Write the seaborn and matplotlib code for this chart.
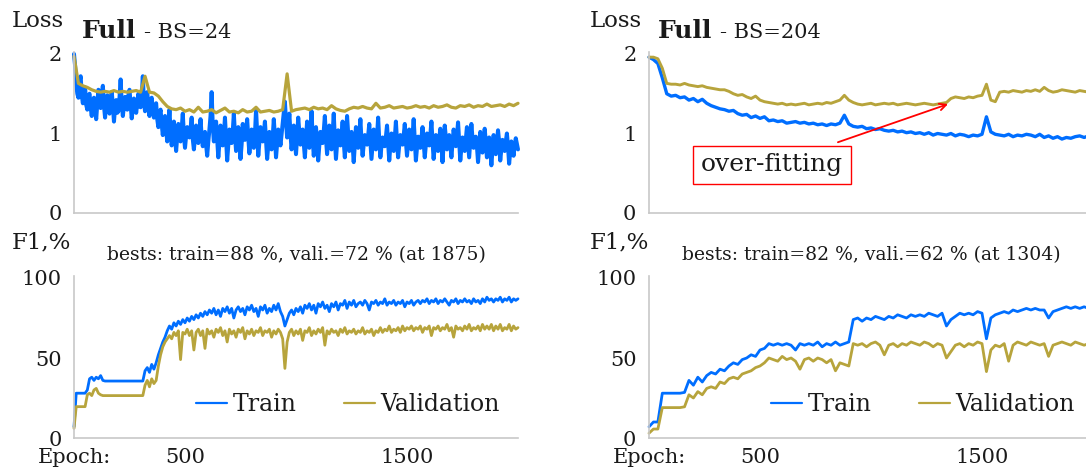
import numpy as np
import pandas as pd
import matplotlib
matplotlib.use("Agg")
import matplotlib.pyplot as plt
import seaborn as sns

sns.set_theme(style="white")
plt.rcParams['font.family'] = ['DejaVu Serif']
plt.rcParams['mathtext.fontset'] = 'dejavuserif'

TRAIN_COLOR = "#006eff"
VAL_COLOR = "#b7a43c"
TEXT_COLOR = "#1a1a1a"
SPINE_COLOR = "#c8c8c8"

# ---------------- data ----------------
# BS=24, train loss, sampled every 5 epochs
loss24_train = [
    2.00, 1.85, 1.62, 1.50, 1.45, 1.66, 1.72, 1.48, 1.38, 1.55, 1.58, 1.36, 1.30, 1.47, 1.50, 1.33, 1.22, 1.40, 1.45, 1.29,
    1.18, 1.38, 1.55, 1.42, 1.32, 1.50, 1.60, 1.35, 1.20, 1.41, 1.48, 1.30, 1.25, 1.44, 1.52, 1.36, 1.15, 1.33, 1.42, 1.26,
    1.28, 1.45, 1.68, 1.38, 1.22, 1.35, 1.46, 1.31, 1.30, 1.48, 1.55, 1.37, 1.19, 1.32, 1.44, 1.40, 1.26, 1.38, 1.50, 1.34,
    1.33, 1.46, 1.72, 1.40, 1.28, 1.39, 1.52, 1.35, 1.22, 1.36, 1.45, 1.30, 1.20, 1.33, 1.38, 1.18, 1.08, 1.24, 1.30, 1.12,
    0.98, 1.15, 1.22, 1.05, 0.90, 1.08, 1.30, 1.02, 0.85, 0.98, 1.15, 0.95, 0.78, 0.96, 1.12, 1.00, 0.90, 1.06, 1.25, 0.98,
    0.82, 0.97, 1.08, 1.00, 0.95, 1.06, 1.20, 0.93, 0.80, 0.94, 1.10, 0.99, 0.88, 1.02, 1.18, 0.96, 0.84, 0.92, 1.02, 0.86,
    0.72, 0.90, 1.05, 1.22, 1.52, 1.10, 0.90, 1.00, 1.15, 0.92, 0.70, 0.88, 1.10, 1.00, 0.85, 0.97, 1.20, 0.94, 0.66, 0.86,
    1.05, 0.96, 0.88, 1.02, 1.25, 0.99, 0.78, 0.93, 1.08, 0.90, 0.68, 0.86, 1.12, 1.01, 0.92, 1.04, 1.18, 0.95, 0.75, 0.90,
    1.05, 0.94, 0.82, 0.98, 1.30, 1.02, 0.72, 0.89, 1.08, 0.97, 0.90, 1.00, 1.15, 0.92, 0.68, 0.85, 1.02, 0.93, 0.80, 0.95,
    1.18, 0.96, 0.70, 0.88, 1.05, 0.97, 0.85, 0.99, 1.12, 1.28, 1.40, 1.15, 0.95, 1.08, 1.25, 1.00, 0.80, 0.94, 1.10, 0.90,
    0.74, 0.95, 1.20, 1.02, 0.86, 0.96, 1.05, 0.88, 0.70, 0.92, 1.15, 0.98, 0.82, 1.00, 1.28, 0.95, 0.72, 0.89, 1.08, 0.90,
    0.66, 0.85, 1.02, 0.96, 0.88, 1.03, 1.22, 0.94, 0.74, 0.91, 1.10, 0.97, 0.80, 0.99, 1.25, 0.93, 0.68, 0.87, 1.04, 0.92,
    0.85, 0.98, 1.15, 0.90, 0.70, 0.94, 1.22, 0.99, 0.78, 0.90, 1.02, 0.86, 0.64, 0.85, 1.08, 0.96, 0.82, 0.98, 1.18, 0.91,
    0.72, 0.86, 0.98, 0.92, 0.86, 0.97, 1.12, 0.90, 0.68, 0.87, 1.05, 0.95, 0.80, 0.96, 1.20, 0.92, 0.70, 0.84, 0.95, 0.89,
    0.84, 0.96, 1.10, 0.88, 0.66, 0.84, 1.00, 0.91, 0.78, 0.94, 1.15, 0.90, 0.70, 0.85, 0.98, 0.93, 0.86, 0.97, 1.12, 0.90,
    0.72, 0.88, 1.05, 0.94, 0.80, 0.97, 1.18, 0.92, 0.66, 0.82, 0.96, 0.90, 0.82, 0.94, 1.08, 0.89, 0.70, 0.86, 1.00, 0.93,
    0.85, 0.98, 1.15, 0.90, 0.68, 0.84, 0.98, 0.91, 0.78, 0.92, 1.06, 0.88, 0.64, 0.86, 1.10, 0.95, 0.80, 0.90, 0.98, 0.87,
    0.70, 0.88, 1.05, 0.95, 0.84, 0.97, 1.14, 0.90, 0.66, 0.82, 0.95, 0.88, 0.78, 0.93, 1.08, 0.89, 0.70, 0.90, 1.12, 0.94,
    0.82, 0.90, 0.96, 0.84, 0.64, 0.83, 1.02, 0.92, 0.76, 0.91, 1.06, 0.89, 0.70, 0.84, 0.95, 0.82, 0.60, 0.80, 0.98, 0.88,
    0.74, 0.89, 1.04, 0.90, 0.66, 0.80, 0.92, 0.86, 0.78, 0.90, 1.00, 0.84, 0.62, 0.77, 0.90, 0.84, 0.72, 0.85, 0.94, 0.87,
    0.80,
]
# BS=24, validation loss, every 20 epochs
loss24_val = [
    1.97, 1.63, 1.60, 1.58, 1.55, 1.53, 1.52, 1.53, 1.52, 1.54,
    1.52, 1.53, 1.52, 1.53, 1.54, 1.52, 1.72, 1.52, 1.51, 1.47,
    1.40, 1.34, 1.31, 1.30, 1.32, 1.28, 1.30, 1.27, 1.33, 1.27,
    1.28, 1.30, 1.26, 1.29, 1.32, 1.27, 1.28, 1.26, 1.30, 1.27,
    1.28, 1.33, 1.27, 1.28, 1.29, 1.27, 1.28, 1.30, 1.75, 1.28,
    1.30, 1.31, 1.32, 1.30, 1.33, 1.31, 1.32, 1.30, 1.35, 1.31,
    1.29, 1.28, 1.31, 1.33, 1.32, 1.34, 1.32, 1.31, 1.38, 1.32,
    1.33, 1.35, 1.32, 1.33, 1.34, 1.32, 1.33, 1.35, 1.33, 1.34,
    1.32, 1.35, 1.33, 1.34, 1.36, 1.33, 1.32, 1.35, 1.34, 1.36,
    1.33, 1.35, 1.34, 1.37, 1.34, 1.35, 1.36, 1.34, 1.37, 1.35,
    1.38,
]
# BS=204, train loss, every 20 epochs
loss204_train = [
    1.96, 1.93, 1.88, 1.70, 1.50, 1.47, 1.48, 1.45, 1.46, 1.42,
    1.44, 1.40, 1.43, 1.38, 1.35, 1.33, 1.31, 1.30, 1.28, 1.29,
    1.25, 1.23, 1.24, 1.20, 1.22, 1.19, 1.21, 1.16, 1.17, 1.15,
    1.16, 1.13, 1.14, 1.15, 1.13, 1.14, 1.12, 1.13, 1.11, 1.12,
    1.10, 1.12, 1.11, 1.13, 1.23, 1.12, 1.09, 1.08, 1.09, 1.06,
    1.07, 1.05, 1.06, 1.04, 1.03, 1.04, 1.02, 1.03, 1.01, 1.02,
    1.00, 1.01, 0.99, 1.01, 0.98, 1.00, 0.99, 0.98, 1.00, 0.97,
    0.99, 0.98, 0.96, 0.98, 0.97, 0.99, 1.21, 1.02, 0.99, 0.98,
    0.97, 0.99, 0.96, 0.98, 0.97, 0.99, 0.98, 0.96, 0.99, 0.95,
    0.97, 0.94, 0.96, 0.93, 0.95, 0.94, 0.96, 0.97, 0.95, 0.97,
    0.96,
]
# BS=204, validation loss, every 20 epochs
loss204_val = [
    1.96, 1.96, 1.94, 1.82, 1.63, 1.62, 1.62, 1.61, 1.63, 1.61,
    1.60, 1.59, 1.60, 1.58, 1.57, 1.56, 1.55, 1.55, 1.53, 1.50,
    1.48, 1.49, 1.46, 1.44, 1.47, 1.42, 1.40, 1.39, 1.38, 1.37,
    1.38, 1.36, 1.37, 1.36, 1.37, 1.38, 1.36, 1.37, 1.38, 1.37,
    1.39, 1.38, 1.40, 1.42, 1.48, 1.42, 1.39, 1.37, 1.36, 1.37,
    1.38, 1.36, 1.37, 1.38, 1.37, 1.38, 1.36, 1.37, 1.38, 1.37,
    1.36, 1.37, 1.38, 1.37, 1.36, 1.37, 1.38, 1.39, 1.44, 1.46,
    1.45, 1.44, 1.46, 1.45, 1.47, 1.48, 1.62, 1.42, 1.40, 1.52,
    1.53, 1.52, 1.54, 1.53, 1.52, 1.54, 1.53, 1.55, 1.53, 1.58,
    1.54, 1.52, 1.53, 1.55, 1.54, 1.53, 1.52, 1.54, 1.53, 1.52,
    1.53,
]
# BS=24, train F1 %, every 10 epochs
f1_24_train = [
    7, 28, 28, 28, 28, 28, 30, 37, 38, 36,
    38, 37, 39, 36, 35.6, 35.6, 35.6, 35.6, 35.6, 35.6,
    35.6, 35.6, 35.6, 35.6, 35.6, 35.6, 35.6, 35.6, 35.6, 35.6,
    35.6, 35.6, 42, 44, 41, 46, 43, 47, 52, 56,
    60, 63, 67, 70, 68, 72, 70, 73, 71, 74,
    72, 75, 73, 76, 74, 77, 75, 78, 76, 79,
    77, 80, 78, 81, 77, 80, 76, 81, 79, 82,
    78, 81, 75, 80, 82, 79, 81, 77, 82, 80,
    83, 79, 81, 76, 82, 80, 83, 78, 81, 79,
    83, 80, 84, 79, 76, 70, 74, 78, 80, 77,
    81, 79, 82, 78, 83, 81, 84, 80, 83, 78,
    84, 82, 85, 81, 83, 79, 84, 82, 85, 80,
    84, 83, 86, 81, 85, 83, 86, 82, 84, 85,
    83, 86, 84, 80, 85, 84, 86, 83, 85, 84,
    87, 83, 85, 84, 86, 83, 85, 84, 86, 82,
    85, 84, 86, 83, 85, 86, 84, 86, 85, 87,
    84, 86, 85, 87, 84, 86, 85, 87, 85, 83,
    86, 85, 87, 84, 86, 85, 87, 85, 86, 84,
    87, 85, 86, 84, 87, 85, 88, 86, 87, 85,
    87, 86, 88, 85, 87, 86, 88, 85, 87, 86,
    87,
]
# BS=24, validation F1 %, every 10 epochs
f1_24_val = [
    6, 19.6, 19.6, 19.6, 19.6, 19.6, 27, 28, 26.5, 30,
    31, 28, 27, 26.5, 26.5, 26.5, 26.5, 26.5, 26.5, 26.5,
    26.5, 26.5, 26.5, 26.5, 26.5, 26.5, 26.5, 26.5, 26.5, 26.5,
    26.5, 26.5, 33, 36, 32, 37, 34, 36, 45, 52,
    57, 60, 62, 64, 62, 66, 64, 67, 49, 66,
    65, 68, 64, 67, 55, 66, 68, 64, 67, 56,
    68, 65, 67, 63, 68, 66, 69, 64, 67, 60,
    68, 65, 67, 63, 68, 66, 69, 62, 67, 65,
    68, 64, 67, 66, 69, 64, 67, 66, 68, 63,
    67, 65, 68, 66, 62, 43.5, 60, 66, 68, 64,
    67, 65, 68, 61, 67, 66, 69, 64, 67, 65,
    68, 66, 69, 58, 67, 65, 68, 66, 67, 64,
    68, 66, 69, 65, 67, 66, 68, 65, 67, 66,
    69, 65, 67, 66, 68, 64, 67, 66, 69, 66,
    68, 67, 70, 66, 68, 67, 69, 66, 70, 67,
    69, 68, 70, 67, 69, 68, 70, 66, 69, 68,
    70, 64, 69, 68, 70, 67, 69, 68, 71, 67,
    69, 63, 70, 68, 69, 67, 70, 68, 71, 67,
    69, 68, 70, 67, 71, 68, 70, 68, 71, 67,
    70, 68, 71, 67, 69, 68, 71, 67, 70, 68,
    69,
]
# BS=204, train F1 %, every 20 epochs
f1_204_train = [
    7, 10, 10, 28, 28, 28, 28, 28, 28.5, 36,
    33, 38, 35, 39, 41, 40, 43, 42, 45, 47,
    46, 49, 50, 52, 51, 55, 56, 59, 58, 59,
    58, 59, 58, 55, 59, 58, 59, 58, 60, 57,
    59, 58, 60, 58, 59, 60, 74, 75, 73, 75,
    74, 76, 75, 74, 76, 75, 77, 76, 75, 77,
    76, 77, 76, 78, 77, 76, 78, 70, 74, 76,
    78, 77, 78, 77, 79, 78, 62, 75, 77, 78,
    79, 78, 80, 79, 80, 81, 80, 81, 80, 80,
    75, 79, 80, 81, 82, 81, 82, 81, 82, 81,
    82,
]
# BS=204, validation F1 %, every 20 epochs
f1_204_val = [
    3, 5.6, 5.6, 19, 19, 19, 19, 19, 19.5, 27,
    25, 29, 27, 31, 32, 31, 35, 34, 37, 38,
    37, 40, 41, 42, 44, 45, 47, 50, 49, 48,
    51, 49, 50, 48, 43, 49, 50, 48, 50, 49,
    47, 49, 42, 47, 46, 45, 59, 58, 59, 57,
    59, 60, 58, 52, 58, 59, 57, 59, 58, 60,
    59, 58, 60, 59, 57, 59, 58, 50, 54, 58,
    59, 57, 59, 58, 60, 59, 41.5, 55, 58, 57,
    59, 48, 58, 60, 59, 58, 60, 59, 58, 59,
    51, 58, 59, 60, 59, 58, 60, 59, 58, 59,
    59,
]

x_ticks = [0, 500, 1000, 1500, 2000]
x_ticklabels = ["Epoch:", "500", "", "1500", ""]
loss_ticks = [0, 1, 2]
f1_ticks = [0, 50, 100]
titles = [("Full", "- BS=24"), ("Full", "- BS=204")]
bests = ["bests: train=88 %, vali.=72 % (at 1875)",
         "bests: train=82 %, vali.=62 % (at 1304)"]


def epochs(values, step):
    return np.arange(len(values)) * step


# ---------------- layout ----------------
W, H = 1086, 472
fig = plt.figure(figsize=(W / 100, H / 100), dpi=100)


def rect(x0, x1, ytop, ybot):
    return [x0 / W, 1 - ybot / H, (x1 - x0) / W, (ybot - ytop) / H]


ax_tl = fig.add_axes(rect(74, 518, 52.4, 213))
ax_bl = fig.add_axes(rect(74, 518, 276.4, 438))
ax_tr = fig.add_axes(rect(649, 1093, 52.4, 213))
ax_br = fig.add_axes(rect(649, 1093, 276.4, 438))


def draw(ax, tr, tr_step, va, va_step, legend, lw_tr, lw_va):
    df_tr = pd.DataFrame({"Epoch": epochs(tr, tr_step), "v": tr})
    df_va = pd.DataFrame({"Epoch": epochs(va, va_step), "v": va})
    sns.lineplot(data=df_tr, x="Epoch", y="v", ax=ax, color=TRAIN_COLOR,
                 lw=lw_tr, estimator=None, label="Train", legend=False)
    sns.lineplot(data=df_va, x="Epoch", y="v", ax=ax, color=VAL_COLOR,
                 lw=lw_va, estimator=None, label="Validation", legend=False)
    if legend:
        leg = ax.legend(loc="center", bbox_to_anchor=(0.617, 0.206), ncol=2,
                        frameon=False, fontsize=17, handlelength=1.3,
                        handletextpad=0.25, columnspacing=2.0, borderpad=0,
                        borderaxespad=0, labelcolor=TEXT_COLOR)
        for h in leg.legend_handles:
            h.set_linewidth(1.6)
    else:
        lg = ax.get_legend()
        if lg is not None:
            lg.remove()


def style(ax, yticks, ylim, bottom):
    ax.set_xlim(0, 2000)
    ax.set_ylim(*ylim)
    ax.set_xticks(x_ticks)
    ax.set_xticklabels(x_ticklabels if bottom else [""] * len(x_ticks))
    ax.set_yticks(yticks)
    ax.set_yticklabels([str(t) for t in yticks])
    ax.set_xlabel("")
    ax.set_ylabel("")
    for s in ["top", "right"]:
        ax.spines[s].set_visible(False)
    for s in ["left", "bottom"]:
        ax.spines[s].set_color(SPINE_COLOR)
        ax.spines[s].set_linewidth(1.2)
    ax.tick_params(axis="both", direction="in", width=1.1, color=SPINE_COLOR,
                   labelsize=15, labelcolor=TEXT_COLOR)
    ax.tick_params(axis="x", length=7.5, pad=7)
    ax.tick_params(axis="y", length=6, pad=9)
    for line in ax.get_lines():
        line.set_clip_on(False)


draw(ax_tl, loss24_train, 5, loss24_val, 20, False, 2.9, 2.3)
draw(ax_bl, f1_24_train, 10, f1_24_val, 10, True, 2.0, 2.0)
draw(ax_tr, loss204_train, 20, loss204_val, 20, False, 2.4, 2.1)
draw(ax_br, f1_204_train, 20, f1_204_val, 20, True, 2.0, 2.0)

style(ax_tl, loss_ticks, (0, 2.02), False)
style(ax_tr, loss_ticks, (0, 2.02), False)
style(ax_bl, f1_ticks, (0, 101), True)
style(ax_br, f1_ticks, (0, 101), True)

# axis names
for x0 in (12, 590):
    fig.text(x0 / W, 1 - 27 / H, "Loss", fontsize=16.5, color=TEXT_COLOR,
             va="baseline", ha="left")
    fig.text(x0 / W, 1 - 248 / H, "F1,%", fontsize=16.5, color=TEXT_COLOR,
             va="baseline", ha="left")

# titles
bold_texts = []
for (bold, rest), x0 in zip(titles, (82, 658)):
    t = fig.text(x0 / W, 1 - 38 / H, bold, fontsize=18, fontweight="bold",
                 color=TEXT_COLOR, va="baseline", ha="left")
    bold_texts.append((t, rest))
fig.canvas.draw()
for t, rest in bold_texts:
    bb = t.get_window_extent()
    fig.text((bb.x1 + 8) / W, 1 - 38 / H, rest, fontsize=15,
             color=TEXT_COLOR, va="baseline", ha="left")

# "bests" lines
for ax, txt in zip((ax_bl, ax_br), bests):
    ax.text(0.5, 1 + 16 / 161.6, txt, transform=ax.transAxes, fontsize=13.5,
            color=TEXT_COLOR, ha="center", va="baseline")

# over-fitting annotation
ax_tr.annotate("", xy=(1347, 1.37), xytext=(851, 0.89),
               arrowprops=dict(arrowstyle="->", color="red", lw=1.3,
                               shrinkA=0, shrinkB=0, mutation_scale=12))
ax_tr.text(554, 0.61, "over-fitting", fontsize=18, color=TEXT_COLOR,
           ha="center", va="center",
           bbox=dict(boxstyle="square,pad=0.3", fc="white", ec="red", lw=1.0))

fig.savefig("out.png", dpi=100)
